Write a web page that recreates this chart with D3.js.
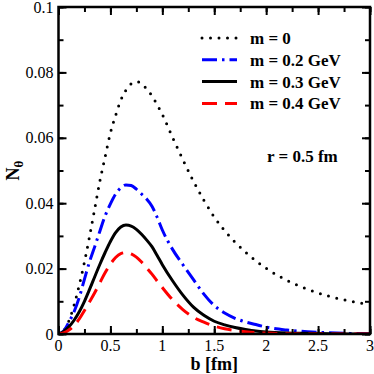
<!DOCTYPE html>
<html>
<head>
<meta charset="utf-8">
<script src="https://cdn.jsdelivr.net/npm/d3@7"></script>
<style>
  body { margin: 0; background: #fff; }
  text { font-family: "Liberation Serif", "DejaVu Serif", serif; }
</style>
</head>
<body>
<svg id="chart" width="374" height="374"></svg>
<script>
// impact parameter grid (fm)
var bGrid = [0, 0.05, 0.1, 0.15, 0.2, 0.25, 0.3, 0.35, 0.4, 0.45, 0.5, 0.55, 0.6, 0.65, 0.7, 0.75,
  0.8, 0.85, 0.9, 0.95, 1.0, 1.1, 1.2, 1.3, 1.4, 1.5, 1.6, 1.7, 1.8, 1.9, 2.0, 2.2, 2.4, 2.6, 2.8, 3.0];

var nM0 = [0, 0.001, 0.004, 0.0088, 0.015, 0.022, 0.030, 0.0385, 0.047, 0.0543, 0.0615, 0.0668, 0.0715, 0.0746, 0.0765, 0.0772,
  0.0765, 0.0749, 0.0728, 0.0701, 0.0671, 0.0600, 0.0532, 0.0467, 0.0409, 0.0358, 0.0316, 0.0281, 0.0251, 0.0224, 0.0201,
  0.0164, 0.0137, 0.0116, 0.0101, 0.0090];
var nM02 = [0, 0.0009, 0.0036, 0.0068, 0.0112, 0.0168, 0.0222, 0.0268, 0.0316, 0.0362, 0.0398, 0.0428, 0.0447, 0.0456, 0.0454, 0.0443,
  0.0428, 0.0412, 0.0391, 0.0357, 0.0318, 0.0258, 0.0211, 0.0166, 0.0122, 0.0087, 0.0064, 0.0048, 0.0037, 0.0029, 0.0021,
  0.0012, 0.0007, 0.0004, 0.0002, 0.0001];
var nM03 = [0, 0.0008, 0.0022, 0.0042, 0.0068, 0.0100, 0.0137, 0.0176, 0.0214, 0.0250, 0.0283, 0.0310, 0.0327, 0.0333, 0.0330, 0.0320,
  0.0305, 0.0287, 0.0267, 0.0240, 0.0212, 0.0162, 0.0118, 0.0082, 0.0057, 0.0039, 0.0028, 0.0020, 0.0014, 0.0009, 0.0006,
  0.0003, 0.0002, 0.0001, 0, 0];
var nM04 = [0, 0.0003, 0.0012, 0.0026, 0.0046, 0.0072, 0.0099, 0.0127, 0.0158, 0.0188, 0.0214, 0.0234, 0.0246, 0.0249, 0.0245, 0.0235,
  0.0220, 0.0202, 0.0183, 0.0162, 0.0142, 0.0104, 0.0074, 0.0051, 0.0036, 0.0024, 0.0016, 0.0011, 0.0007, 0.0004, 0.0003,
  0.0001, 0, 0, 0, 0];

var seriesNames = ["m = 0", "m = 0.2 GeV", "m = 0.3 GeV", "m = 0.4 GeV"];
var xTicks = [0, 0.5, 1, 1.5, 2, 2.5, 3];
var xTickLabels = ["0", "0.5", "1", "1.5", "2", "2.5", "3"];
var yTicks = [0, 0.02, 0.04, 0.06, 0.08, 0.1];
var yTickLabels = ["0", "0.02", "0.04", "0.06", "0.08", "0.1"];

var svg = d3.select("#chart");
var plotL = 58.5, plotR = 370, plotT = 7, plotB = 334;

var x = d3.scaleLinear().domain([0, 3]).range([plotL, plotR]);
var y = d3.scaleLinear().domain([0, 0.1]).range([plotB, plotT]);

svg.append("rect").attr("width", 374).attr("height", 374).attr("fill", "#fff");

var styles = [
  { color: "#000", dash: "0,8.5", width: 3, cap: "round" },
  { color: "#0000ff", dash: "15,5,2.5,5", width: 3, cap: "butt" },
  { color: "#000", dash: null, width: 3, cap: "butt" },
  { color: "#ff0000", dash: "15,8", width: 3, cap: "butt" }
];
var allSeries = [nM0, nM02, nM03, nM04];

var line = d3.line()
    .x(function(d) { return x(d[0]); })
    .y(function(d) { return y(d[1]); })
    .curve(d3.curveMonotoneX);

svg.append("defs").append("clipPath").attr("id", "plotclip")
    .append("rect").attr("x", plotL).attr("y", plotT)
    .attr("width", plotR - plotL).attr("height", plotB - plotT);

var curves = svg.append("g").attr("clip-path", "url(#plotclip)");
allSeries.forEach(function(vals, i) {
  var pts = bGrid.map(function(b, j) { return [b, vals[j]]; });
  curves.append("path")
      .datum(pts)
      .attr("d", line)
      .attr("fill", "none")
      .attr("stroke", styles[i].color)
      .attr("stroke-width", styles[i].width)
      .attr("stroke-linecap", styles[i].cap)
      .attr("stroke-dasharray", styles[i].dash);
});

// axes: ticks point inward on all four sides
var xMinor = d3.range(0, 3.001, 0.25);
var yMinor = d3.range(0, 0.1001, 0.01);

svg.append("g").attr("transform", "translate(0," + plotB + ")")
    .call(d3.axisTop(x).tickValues(xMinor).tickSize(5).tickFormat(""));
svg.append("g").attr("transform", "translate(0," + plotB + ")")
    .call(d3.axisTop(x).tickValues(xTicks).tickSize(8).tickFormat(""));
svg.append("g").attr("transform", "translate(0," + plotT + ")")
    .call(d3.axisBottom(x).tickValues(xMinor).tickSize(5).tickFormat(""));
svg.append("g").attr("transform", "translate(0," + plotT + ")")
    .call(d3.axisBottom(x).tickValues(xTicks).tickSize(8).tickFormat(""));
svg.append("g").attr("transform", "translate(" + plotL + ",0)")
    .call(d3.axisRight(y).tickValues(yMinor).tickSize(5).tickFormat(""));
svg.append("g").attr("transform", "translate(" + plotL + ",0)")
    .call(d3.axisRight(y).tickValues(yTicks).tickSize(8).tickFormat(""));
svg.append("g").attr("transform", "translate(" + plotR + ",0)")
    .call(d3.axisLeft(y).tickValues(yMinor).tickSize(5).tickFormat(""));
svg.append("g").attr("transform", "translate(" + plotR + ",0)")
    .call(d3.axisLeft(y).tickValues(yTicks).tickSize(8).tickFormat(""));

svg.selectAll(".domain").remove();
svg.selectAll(".tick line").attr("stroke", "#000").attr("stroke-width", 2);

svg.append("rect")
    .attr("x", plotL).attr("y", plotT)
    .attr("width", plotR - plotL).attr("height", plotB - plotT)
    .attr("fill", "none").attr("stroke", "#000").attr("stroke-width", 2.5);

// tick labels
svg.append("g").selectAll("text").data(xTicks).enter().append("text")
    .attr("x", function(d) { return x(d); })
    .attr("y", 351)
    .attr("text-anchor", "middle")
    .attr("font-size", 16)
    .text(function(d, i) { return xTickLabels[i]; });

svg.append("g").selectAll("text").data(yTicks).enter().append("text")
    .attr("x", plotL - 5)
    .attr("y", function(d) { return y(d) + 5.5; })
    .attr("text-anchor", "end")
    .attr("font-size", 16)
    .text(function(d, i) { return yTickLabels[i]; });

// axis titles
svg.append("text")
    .attr("x", (plotL + plotR) / 2).attr("y", 370)
    .attr("text-anchor", "middle")
    .attr("font-size", 18).attr("font-weight", "bold")
    .text("b [fm]");

svg.append("text")
    .attr("transform", "translate(19," + ((plotT + plotB) / 2) + ") rotate(-90)")
    .attr("text-anchor", "middle")
    .attr("font-size", 18).attr("font-weight", "bold")
    .text("N")
    .append("tspan")
    .attr("font-size", 13).attr("dy", 4)
    .text("θ");

// legend
var legend = svg.append("g");
seriesNames.forEach(function(name, i) {
  var ly = 38 + i * 21.8;
  legend.append("line")
      .attr("x1", 202).attr("x2", 237).attr("y1", ly).attr("y2", ly)
      .attr("stroke", styles[i].color)
      .attr("stroke-width", styles[i].width)
      .attr("stroke-linecap", styles[i].cap)
      .attr("stroke-dasharray", styles[i].dash);
  legend.append("text")
      .attr("x", 250).attr("y", ly + 6)
      .attr("font-size", 17).attr("font-weight", "bold")
      .text(name);
});

svg.append("text")
    .attr("x", 267).attr("y", 162)
    .attr("font-size", 17).attr("font-weight", "bold")
    .text("r = 0.5 fm");
</script>
</body>
</html>
